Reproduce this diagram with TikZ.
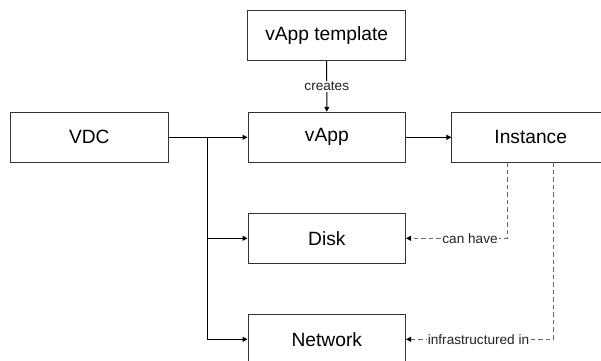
\documentclass[tikz,border=0pt]{standalone}
\usepackage{fontspec}
\setmainfont{Liberation Sans}
\usetikzlibrary{arrows.meta}
\definecolor{boxline}{HTML}{333333}
\definecolor{dashline}{HTML}{666666}
\definecolor{lbl}{HTML}{222222}
\begin{document}
\begin{tikzpicture}[x=1pt,y=-1pt,
  box/.style={draw=boxline,line width=1pt,minimum width=157.5pt,minimum height=50pt,inner sep=0pt,
    font=\fontsize{19.2}{23}\selectfont,text=black},
  arr/.style={draw=black,line width=1pt,-{Triangle[length=5pt,width=5pt]}},
  dsh/.style={draw=dashline,line width=1pt,dash pattern=on 4.5pt off 3pt,-{Triangle[length=5pt,width=5pt]},
    arrows={-{Triangle[length=5pt,width=5pt,color=black]}}},
  lab/.style={fill=white,inner sep=1pt,font=\fontsize{13.6}{16}\selectfont,text=lbl}]
\useasboundingbox (0,0) rectangle (601,360);
\clip (0,0) rectangle (601,360);
\node[box] (tmpl) at (326.7,35.7) {vApp template};
\node[box] (vdc)  at (89.3,137.3) {VDC};
\node[box] (vapp) at (326.8,137.3) {vApp};
\node[box] (inst) at (530.7,137.3) {Instance};
\node[box] (disk) at (326.8,238.3) {Disk};
\node[box] (net)  at (326.8,339.3) {Network};
\coordinate (j) at (207.3,137.3);
\coordinate (i1) at (507.3,162.3);
\coordinate (i2) at (553.3,162.3);
\draw[arr] (tmpl.south) -- node[lab,pos=0.5] {creates} (vapp.north);
\draw[arr] (vdc.east) -- (vapp.west);
\draw[arr] (j) |- (disk.west);
\draw[arr] (j) |- (net.west);
\draw[arr] (vapp.east) -- (inst.west);
\draw[dsh] (i1) |- node[lab,pos=0.684] {can have} (disk.east);
\draw[dsh] (i2) |- node[lab,pos=0.754] {infrastructured in} (net.east);
\end{tikzpicture}
\end{document}
